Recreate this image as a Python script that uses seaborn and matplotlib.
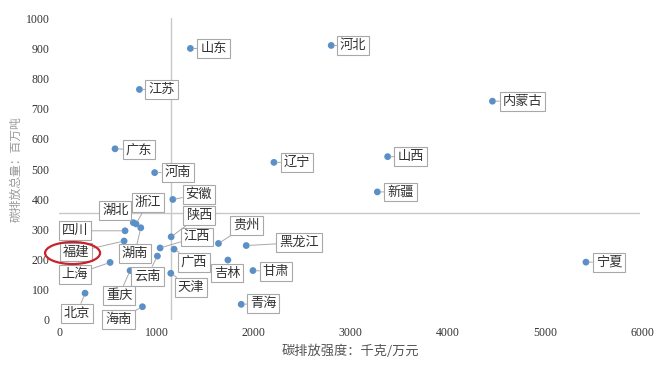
import numpy as np
import pandas as pd
import seaborn as sns
import matplotlib.pyplot as plt
from matplotlib.patches import Ellipse
from matplotlib import transforms

# carbon emission intensity (kg / 10k yuan) vs total emissions (Mt), by province
provinces = ["山东", "河北", "内蒙古", "江苏", "广东", "河南", "辽宁", "山西", "新疆", "安徽",
             "浙江", "湖北", "陕西", "四川", "福建", "湖南", "江西", "贵州", "黑龙江", "上海",
             "云南", "广西", "吉林", "甘肃", "重庆", "天津", "北京", "海南", "青海", "宁夏"]
intensity = [1350, 2800, 4460, 825, 574, 982, 2210, 3381, 3275, 1169,
             790, 762, 1152, 677, 667, 839, 1038, 1639, 1925, 523,
             1010, 1182, 1736, 1994, 729, 1148, 265, 856, 1873, 5423]
emission = [900, 910, 725, 764, 567, 488, 522, 541, 424, 399,
            318, 322, 275, 295, 261, 305, 238, 253, 246, 190,
            211, 234, 198, 163, 163, 154, 88, 43, 51, 191]

x_ref = 1150   # vertical divider
y_ref = 355    # horizontal divider
xticks = [0, 1000, 2000, 3000, 4000, 5000, 6000]
yticks = [0, 100, 200, 300, 400, 500, 600, 700, 800, 900, 1000]

df = pd.DataFrame({"province": provinces, "intensity": intensity, "emission": emission})

# label box offsets from the dot, in pixels (dx right, dy down)
label_off = {
    "山东": (23, 0), "河北": (22, 0), "内蒙古": (30, 0), "江苏": (22, 0), "广东": (24, 1),
    "河南": (23, 0), "辽宁": (23, 0), "山西": (23, 0), "新疆": (23, 0), "安徽": (26, -5),
    "浙江": (12, -21), "湖北": (-18, -12), "陕西": (28, -21), "四川": (-50, 0), "福建": (-48, 11),
    "湖南": (-6, 26), "江西": (37, -11), "贵州": (28, -18), "黑龙江": (53, -3), "上海": (-35, 12),
    "云南": (-10, 20), "广西": (20, 13), "吉林": (-1, 13), "甘肃": (23, 1), "重庆": (-11, 25),
    "天津": (20, 14), "北京": (-8, 20), "海南": (-24, 13), "青海": (22, -1), "宁夏": (23, 0),
}

sns.set_style("white")
cjk = ["Noto Sans CJK SC", "DejaVu Sans"]
num = ["Liberation Serif", "Noto Sans CJK SC"]
plt.rcParams["font.family"] = cjk

fig = plt.figure(figsize=(6.64, 3.74), dpi=100)
ax = fig.add_axes([59.3 / 664, 1 - 319.7 / 374, (642 - 59.3) / 664, (319.7 - 18.3) / 374])

ax.plot([x_ref, x_ref], [0, 1000], color="#c8c8c8", lw=1, zorder=1)
ax.plot([0, 5970], [y_ref, y_ref], color="#c8c8c8", lw=1, zorder=1)

sns.scatterplot(data=df, x="intensity", y="emission", ax=ax, s=24, color="#5b8fc7",
                edgecolor="none", zorder=3, legend=False)

for name, xv, yv in zip(provinces, intensity, emission):
    dx, dy = label_off[name]
    ax.annotate(name, xy=(xv, yv), xytext=(dx, -dy), textcoords="offset pixels",
                ha="center", va="center", fontsize=9.5, color="#333333", zorder=4,
                bbox=dict(boxstyle="square,pad=0.22", fc="white", ec="#a8a8a8", lw=0.8),
                arrowprops=dict(arrowstyle="-", color="#a8a8a8", lw=0.7, shrinkA=0, shrinkB=2))

ax.set_xlim(0, 6000)
ax.set_ylim(0, 1000)
ax.set_xticks(xticks)
ax.set_yticks(yticks)
ax.set_xticklabels([str(t) for t in xticks], family=num, fontsize=8.5, color="#333333")
ax.set_yticklabels([str(t) for t in yticks], family=num, fontsize=8.5, color="#333333")
ax.tick_params(axis="both", length=0)
ax.tick_params(axis="x", pad=5)
ax.tick_params(axis="y", pad=7)
sns.despine(ax=ax, left=True, bottom=True)

ax.set_xlabel("碳排放强度：千克/万元", fontsize=9.5, color="#555555", labelpad=4)
ax.set_ylabel("碳排放总量：百万吨", fontsize=8.5, color="#9a9a9a", labelpad=2)

# red ring around the Fujian label
i = provinces.index("福建")
off = transforms.offset_copy(ax.transData, fig=fig, x=-51.5, y=-12, units="dots")
ring = Ellipse((intensity[i], emission[i]), width=55 / 0.0971, height=22 / 0.3014,
               transform=off, fill=False, ec="#c8232c", lw=1.6, clip_on=False, zorder=5)
ax.add_patch(ring)

fig.savefig("out.png", dpi=100, facecolor="white")
